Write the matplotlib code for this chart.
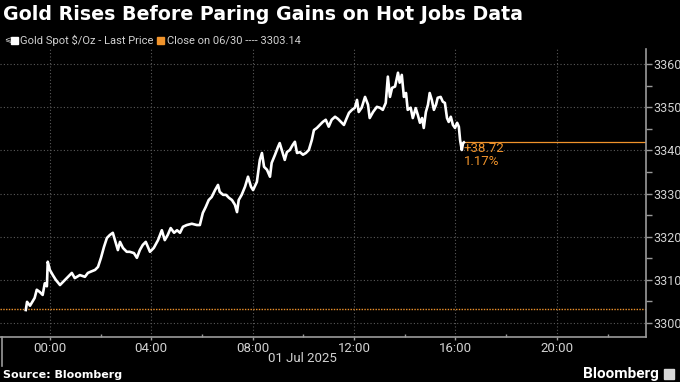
#!/usr/bin/env python3

import pandas as pd
import matplotlib.pyplot as plt
import matplotlib.dates as mdates
from matplotlib.ticker import MultipleLocator

plt.rcParams['font.family'] = ['Roboto', 'DejaVu Sans']

# minutes from 2025-07-01 00:00 and gold spot price
minutes = [-57, -54, -47, -36, -31, -24, -17, -12, -7, -5,
           0, 7, 14, 24, 31, 40, 52, 59, 71, 83,
           90, 97, 107, 114, 121, 128, 135, 142, 149, 156,
           161, 166, 173, 182, 189, 199, 206, 213, 220, 227,
           237, 246, 256, 265, 272, 279, 286, 294, 301, 308,
           315, 324, 336, 348, 355, 362, 369, 376, 383, 391,
           398, 402, 410, 417, 424, 431, 438, 443, 447, 454,
           462, 469, 476, 481, 490, 497, 502, 507, 514, 521,
           525, 533, 540, 544, 549, 556, 561, 568, 575, 580,
           585, 592, 599, 606, 613, 620, 625, 632, 639, 646,
           653, 660, 667, 675, 682, 689, 696, 701, 708, 715,
           722, 727, 731, 738, 746, 753, 757, 765, 774, 781,
           788, 795, 800, 805, 810, 817, 824, 828, 833, 838,
           843, 847, 854, 859, 866, 871, 876, 881, 885, 890,
           895, 899, 904, 909, 914, 918, 925, 930, 935, 940,
           944, 949, 954, 959, 964, 968, 971, 975, 978, 980]
price = [3303.0, 3304.9, 3304.0, 3305.8, 3307.7, 3307.2, 3306.5, 3309.2, 3308.5, 3314.2,
         3312.3, 3311.1, 3310.0, 3308.8, 3309.5, 3310.4, 3311.6, 3310.4, 3311.1, 3310.7,
         3311.6, 3311.9, 3312.3, 3313.0, 3315.1, 3317.6, 3319.7, 3320.4, 3320.9, 3318.6,
         3316.9, 3318.8, 3317.4, 3316.5, 3316.5, 3316.2, 3315.1, 3316.9, 3318.1, 3318.8,
         3316.5, 3317.4, 3319.2, 3321.5, 3319.2, 3320.4, 3322.0, 3320.9, 3321.5, 3320.9,
         3322.3, 3322.7, 3323.0, 3322.7, 3322.7, 3325.5, 3326.9, 3328.5, 3329.2, 3330.8,
         3332.0, 3330.4, 3329.7, 3329.7, 3329.0, 3328.5, 3327.4, 3325.7, 3328.5, 3329.7,
         3331.6, 3333.9, 3331.6, 3330.8, 3332.7, 3337.8, 3339.4, 3336.2, 3335.5, 3333.9,
         3337.1, 3339.0, 3340.8, 3341.7, 3340.1, 3337.8, 3339.6, 3340.1, 3341.3, 3342.0,
         3339.4, 3339.6, 3339.0, 3339.4, 3340.1, 3342.4, 3344.7, 3345.2, 3345.9, 3346.6,
         3347.1, 3345.5, 3347.1, 3347.8, 3347.3, 3346.6, 3345.9, 3347.1, 3348.7, 3349.4,
         3349.9, 3351.7, 3348.9, 3349.9, 3352.4, 3350.6, 3347.5, 3348.9, 3350.1, 3349.9,
         3349.4, 3351.0, 3357.1, 3352.4, 3354.5, 3354.8, 3358.0, 3355.7, 3357.5, 3352.4,
         3353.3, 3349.4, 3349.9, 3347.5, 3349.8, 3348.2, 3346.4, 3347.5, 3345.2, 3348.9,
         3350.6, 3353.3, 3351.7, 3349.4, 3350.6, 3352.2, 3352.4, 3351.3, 3351.0, 3347.5,
         3346.6, 3347.8, 3345.9, 3345.2, 3346.4, 3345.5, 3342.4, 3340.1, 3341.7, 3341.86]

prev_close = 3303.14
change = 38.72
change_pct = '1.17%'

ORANGE = '#f0932b'
GREY = '#d2d2d2'

base = pd.Timestamp('2025-07-01 00:00')
times = base + pd.to_timedelta(minutes, unit='m')
x_start = base + pd.Timedelta(minutes=-118)
x_end = base + pd.Timedelta(minutes=1411)

fig = plt.figure(figsize=(6.8, 3.82), dpi=100, facecolor='black')
ax = fig.add_axes([0.0, 0.1178, 646 / 680, 0.8717 - 0.1178], facecolor='black')

ax.axhline(prev_close, color=ORANGE, lw=1, ls=(0, (1, 1)), zorder=2)
ax.plot(times, price, color='white', lw=1.9, zorder=3)
ax.plot([times[-1], x_end], [price[-1], price[-1]], color=ORANGE, lw=0.9, zorder=2)

ax.text(times[-1], price[-1] + 0.2, '+%.2f' % change, color=ORANGE, fontsize=9.5,
        ha='left', va='top')
ax.text(times[-1], price[-1] - 3.0, change_pct, color=ORANGE, fontsize=9.5,
        ha='left', va='top')

ax.set_xlim(x_start, x_end)
ax.set_ylim(3296.75, 3363.5)

ax.yaxis.tick_right()
ax.yaxis.set_major_locator(MultipleLocator(10))
ax.yaxis.set_minor_locator(MultipleLocator(5))
ax.tick_params(axis='y', which='both', colors='#9a9a9a', labelsize=9, length=4, width=1,
               direction='out', pad=1, labelcolor=GREY)

ax.xaxis.set_major_locator(mdates.HourLocator(byhour=[0, 4, 8, 12, 16, 20]))
ax.xaxis.set_minor_locator(mdates.HourLocator(byhour=[2, 6, 10, 14, 18, 22]))
ax.xaxis.set_major_formatter(mdates.DateFormatter('%H:%M'))
ax.tick_params(axis='x', which='major', colors='#9a9a9a', labelsize=9.5, length=2, width=1,
               direction='out', pad=1.5, labelcolor=GREY)
ax.tick_params(axis='x', which='minor', colors='#9a9a9a', length=2, width=1, direction='in')

ax.grid(True, which='major', color='#5a5a5a', lw=0.8, ls=(0, (1, 2)))

for side in ['top', 'left']:
    ax.spines[side].set_visible(False)
for side in ['right', 'bottom']:
    ax.spines[side].set_color('#9a9a9a')
    ax.spines[side].set_linewidth(1.2)

# day separator tick at the left end of the axis
fig.add_artist(plt.Line2D([1.5 / 680, 1.5 / 680], [1 - 337 / 382, 1 - 366 / 382],
                          color='#9a9a9a', lw=1.2))
fig.text(337 / 680, 1 - 359 / 382, '01 Jul 2025', color=GREY, fontsize=9.5,
         ha='right', va='center')

fig.text(3 / 680, 1 - 15 / 382, 'Gold Rises Before Paring Gains on Hot Jobs Data',
         color='white', fontsize=13.7, fontweight='bold', va='center', ha='left',
         family='DejaVu Sans')

# legend row
fig.text(4 / 680, 1 - 40 / 382, '\u2A7D', color=GREY, fontsize=6, va='center', ha='left',
         family='DejaVu Sans')
fig.patches.append(plt.Rectangle((11 / 680, 1 - 44 / 382), 7 / 680, 7 / 382,
                                 transform=fig.transFigure, color='white'))
fig.text(20 / 680, 1 - 40 / 382, 'Gold Spot $/Oz - Last Price', color=GREY,
         fontsize=8, va='center', ha='left')
fig.patches.append(plt.Rectangle((157 / 680, 1 - 44 / 382), 7 / 680, 7 / 382,
                                 transform=fig.transFigure, color=ORANGE))
fig.text(167 / 680, 1 - 40 / 382, 'Close on 06/30 ---- %.2f' % prev_close, color=GREY,
         fontsize=8, va='center', ha='left')

fig.text(3 / 680, 1 - 375 / 382, 'Source: Bloomberg', color='white', fontsize=8,
         fontweight='bold', va='center', ha='left', family='DejaVu Sans')
fig.text(659 / 680, 1 - 374 / 382, 'Bloomberg', color='white', fontsize=11,
         fontweight='bold', va='center', ha='right')
fig.patches.append(plt.Rectangle((664 / 680, 1 - 379 / 382), 10 / 680, 10 / 382,
                                 transform=fig.transFigure, color='#d8d8d8'))

fig.savefig('out.png', dpi=100, facecolor='black')
